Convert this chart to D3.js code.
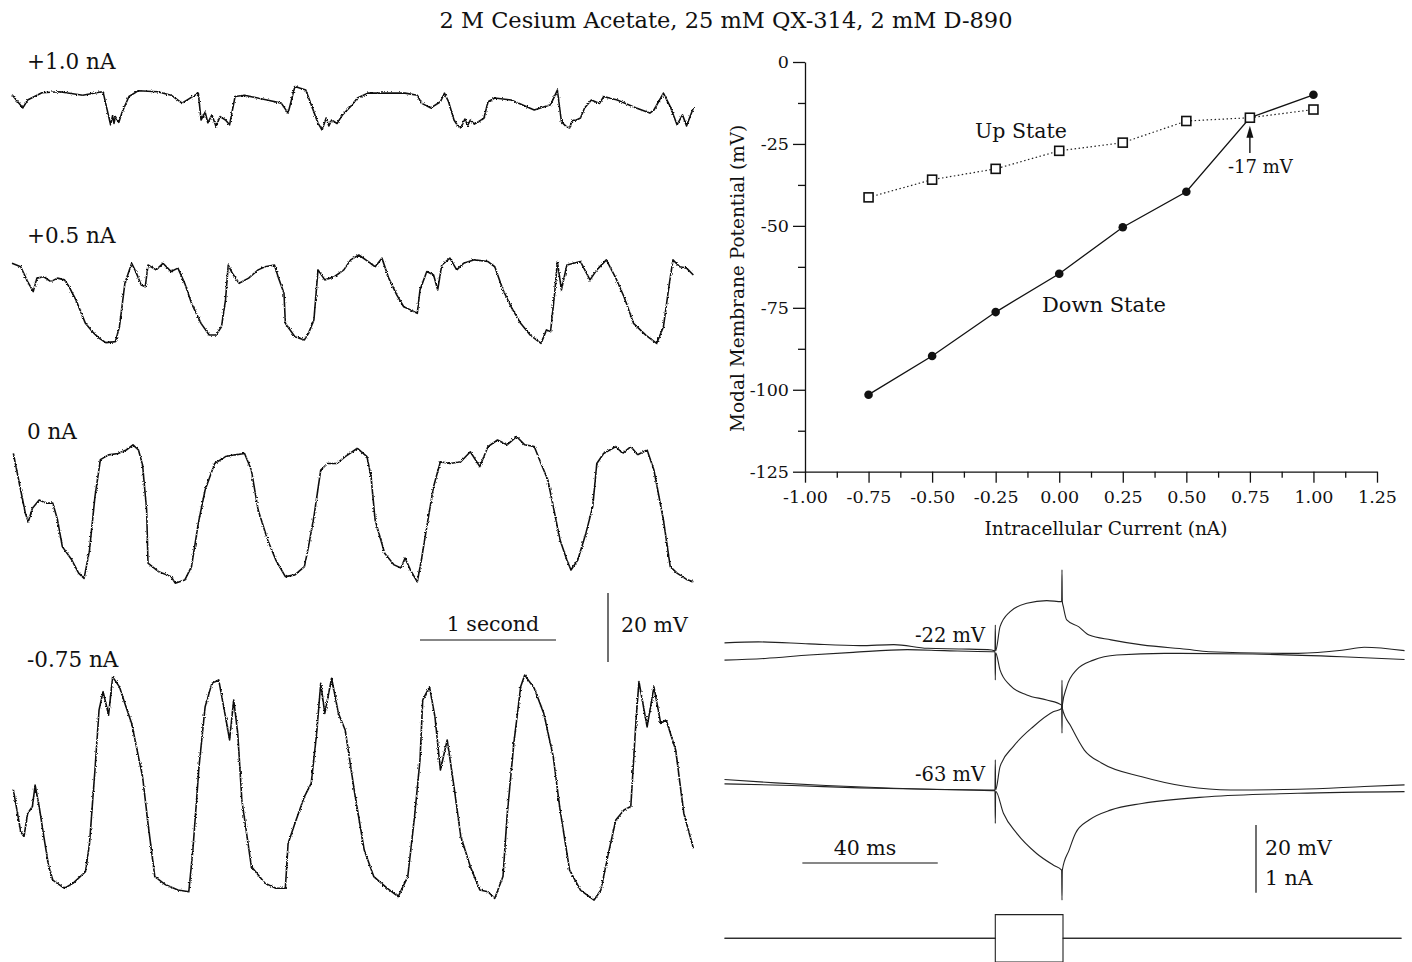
<!DOCTYPE html>
<html>
<head>
<meta charset="utf-8">
<script src="https://cdn.jsdelivr.net/npm/d3@7"></script>
<style>
  body { margin: 0; background: #fff; }
  svg text { font-family: "DejaVu Serif", "Liberation Serif", serif; fill: #111; }
</style>
</head>
<body>
<div id="wrapper"></div>
<script>
// ---- IV plot data (modal membrane potential vs injected current)
const ivCurrents = [-0.75, -0.5, -0.25, 0, 0.25, 0.5, 0.75, 1.0];
const upState = [-41.3, -35.9, -32.6, -27.1, -24.6, -18.0, -17.0, -14.5];
const downState = [-101.5, -89.7, -76.3, -64.6, -50.4, -39.6, -17.0, -10.0];
const ivXTicks = [-1, -0.75, -0.5, -0.25, 0, 0.25, 0.5, 0.75, 1, 1.25];
const ivYTicks = [0, -25, -50, -75, -100, -125];

// ---- slow traces, [time (s), membrane potential (mV)]
const traceLabels = ["+1.0 nA", "+0.5 nA", "0 nA", "-0.75 nA"];
const tracePlus1 = [[0,-10.5],[0.08,-14.3],[0.115,-12],[0.22,-9.9],[0.35,-9.6],[0.52,-10.6],[0.65,-9.7],[0.67,-9.7],[0.725,-19.2],[0.74,-16.5],[0.75,-18.8],[0.76,-16.8],[0.785,-18.5],[0.81,-15.5],[0.86,-11],[0.93,-9.3],[1.07,-9.6],[1.17,-10.6],[1.25,-12.9],[1.37,-10],[1.39,-17.8],[1.42,-15.5],[1.44,-18.6],[1.47,-16.3],[1.50,-19.7],[1.53,-16.8],[1.57,-17.8],[1.60,-19.2],[1.64,-11],[1.71,-10.6],[1.875,-12],[1.98,-12.9],[2.03,-15.8],[2.08,-8.1],[2.16,-9.1],[2.25,-18.7],[2.28,-20.7],[2.31,-17.2],[2.33,-19.5],[2.35,-17.8],[2.39,-18.8],[2.43,-16.3],[2.49,-13.9],[2.54,-11.4],[2.62,-10],[2.79,-10],[2.89,-10],[2.98,-10.6],[3.01,-12.9],[3.08,-14.3],[3.15,-12.5],[3.18,-10],[3.21,-12.5],[3.25,-17.8],[3.28,-19.6],[3.30,-20.1],[3.33,-17.5],[3.35,-19.4],[3.37,-17.8],[3.40,-19.0],[3.43,-18.3],[3.47,-17.3],[3.50,-12.5],[3.55,-11.4],[3.67,-12],[3.84,-14.9],[3.96,-13.4],[4.01,-9.1],[4.04,-18.3],[4.07,-19.5],[4.10,-20.1],[4.12,-17.9],[4.15,-17.8],[4.18,-17.2],[4.21,-14.3],[4.26,-12],[4.32,-13],[4.35,-11],[4.45,-12],[4.59,-14.3],[4.69,-15.8],[4.72,-14.9],[4.79,-10],[4.84,-13.9],[4.89,-19.2],[4.93,-16.3],[4.96,-19.5],[5.01,-14.3]];
const tracePlus05 = [[0,-16.9],[0.064,-17.9],[0.115,-22.2],[0.156,-25.1],[0.183,-21.2],[0.234,-20.8],[0.285,-22.2],[0.335,-21.2],[0.386,-21.7],[0.42,-23.7],[0.47,-27.5],[0.54,-34.3],[0.59,-36.7],[0.64,-38.6],[0.69,-39.9],[0.76,-39.6],[0.79,-35.3],[0.83,-22.7],[0.88,-16.9],[0.91,-19.3],[0.95,-23.2],[0.98,-23.7],[1.00,-17.4],[1.06,-18.8],[1.11,-16.9],[1.17,-19.3],[1.22,-18.3],[1.27,-22.7],[1.32,-28.5],[1.39,-34.3],[1.45,-37.7],[1.50,-37.7],[1.54,-35.3],[1.57,-27.5],[1.59,-17.4],[1.62,-19.8],[1.67,-22.7],[1.74,-21.2],[1.81,-18.8],[1.86,-17.9],[1.93,-17.4],[1.96,-21.2],[2.00,-25.6],[2.01,-34.3],[2.08,-38.2],[2.15,-39.1],[2.18,-37.2],[2.22,-33.3],[2.25,-18.8],[2.30,-21.7],[2.37,-20.8],[2.44,-18.8],[2.49,-15.9],[2.55,-14.5],[2.62,-16.4],[2.67,-17.9],[2.72,-15.4],[2.77,-21.2],[2.83,-26.1],[2.88,-29.5],[2.93,-30.4],[2.98,-31.4],[3.00,-24.6],[3.05,-19.3],[3.10,-20.3],[3.13,-24.6],[3.16,-17.4],[3.22,-15.4],[3.27,-18.8],[3.32,-16.9],[3.40,-15.9],[3.50,-16.4],[3.55,-17.9],[3.61,-24.6],[3.67,-29.5],[3.74,-34.3],[3.81,-37.7],[3.89,-40.1],[3.93,-36.2],[3.96,-36.7],[3.99,-25.6],[4.01,-16.4],[4.04,-24.6],[4.08,-17.4],[4.18,-16.4],[4.25,-21.7],[4.30,-18.8],[4.37,-15.9],[4.44,-21.2],[4.50,-26.6],[4.57,-34.3],[4.66,-37.7],[4.74,-40.1],[4.79,-35.3],[4.83,-23.7],[4.86,-15.9],[4.91,-17.9],[4.96,-18.3],[5.01,-20.3]];
const traceZero = [[0.01,-27.9],[0.054,-36.6],[0.098,-45.2],[0.12,-47.7],[0.15,-43.8],[0.20,-41.4],[0.25,-42.3],[0.30,-42.3],[0.335,-47.2],[0.37,-54.9],[0.44,-58.8],[0.49,-62.6],[0.53,-64.1],[0.57,-55.9],[0.61,-40.4],[0.65,-29.7],[0.71,-28.3],[0.78,-27.9],[0.84,-26.9],[0.89,-25.4],[0.93,-26.9],[0.96,-31.2],[0.99,-44.3],[1.00,-59.7],[1.08,-62.2],[1.17,-63.6],[1.20,-65.5],[1.27,-64.6],[1.32,-60.7],[1.37,-48.1],[1.42,-38.5],[1.49,-30.8],[1.57,-28.8],[1.64,-28.3],[1.71,-27.9],[1.76,-32.7],[1.81,-44.3],[1.88,-53],[1.94,-58.8],[2.01,-63.6],[2.08,-63.1],[2.15,-60.7],[2.18,-54.9],[2.22,-46.2],[2.27,-32.7],[2.32,-30.8],[2.39,-30.8],[2.45,-28.8],[2.54,-26.4],[2.61,-28.8],[2.64,-34.6],[2.67,-47.2],[2.74,-56.8],[2.81,-60.2],[2.86,-61.1],[2.89,-58.2],[2.93,-61.7],[2.98,-65.1],[3.01,-58.8],[3.05,-49.1],[3.10,-37.5],[3.15,-30.3],[3.22,-30.8],[3.30,-30.3],[3.37,-27.4],[3.44,-31.7],[3.50,-25.9],[3.57,-24],[3.64,-25.4],[3.71,-23],[3.77,-25.4],[3.84,-25.9],[3.89,-30.8],[3.94,-35.6],[3.98,-43.3],[4.03,-53],[4.08,-58.8],[4.11,-61.7],[4.16,-58.8],[4.22,-51],[4.27,-43.3],[4.30,-30.8],[4.35,-27.9],[4.44,-25.9],[4.49,-27.9],[4.55,-25.9],[4.60,-28.3],[4.67,-26.9],[4.72,-32.7],[4.79,-47.2],[4.84,-60.7],[4.89,-62.6],[4.96,-64.4],[5.01,-65.1]];
const traceMinus075 = [[0.01,-72.8],[0.064,-84.9],[0.088,-86.3],[0.115,-79.6],[0.15,-77.6],[0.17,-71.4],[0.20,-77.6],[0.234,-86.3],[0.27,-95],[0.30,-98.9],[0.386,-101.3],[0.45,-99.8],[0.54,-96.5],[0.57,-88.3],[0.61,-67],[0.64,-49.6],[0.67,-44.3],[0.71,-51.1],[0.74,-40],[0.79,-42.9],[0.83,-47.7],[0.88,-53.5],[0.93,-63.2],[0.96,-68.9],[1.00,-82.5],[1.05,-97.9],[1.13,-100.3],[1.22,-101.8],[1.30,-102.3],[1.33,-90.2],[1.375,-66.1],[1.42,-48.7],[1.47,-41.9],[1.52,-40.9],[1.57,-51.6],[1.60,-58.3],[1.63,-46.7],[1.66,-56.4],[1.69,-75.7],[1.76,-95],[1.86,-99.8],[1.94,-101.3],[2.01,-101.3],[2.03,-88.3],[2.08,-82.5],[2.15,-74.7],[2.20,-70.9],[2.24,-56.4],[2.27,-41.9],[2.30,-50.6],[2.35,-40.4],[2.40,-50.6],[2.45,-55.4],[2.52,-73.8],[2.59,-90.2],[2.66,-97.9],[2.76,-101.3],[2.84,-103.7],[2.91,-97.9],[2.96,-80.5],[3.00,-64.1],[3.02,-46.7],[3.07,-42.9],[3.11,-51.6],[3.15,-67],[3.20,-58.3],[3.25,-71.8],[3.30,-86.3],[3.37,-95],[3.44,-101.8],[3.50,-102.3],[3.55,-104.2],[3.61,-97.9],[3.64,-80.5],[3.69,-59.3],[3.74,-42.9],[3.77,-39.5],[3.84,-43.3],[3.91,-50.6],[3.98,-63.2],[4.03,-78.6],[4.10,-96],[4.18,-101.8],[4.28,-104.7],[4.33,-101.8],[4.38,-92.1],[4.44,-81.5],[4.50,-78.6],[4.55,-77.6],[4.59,-51.6],[4.61,-41.4],[4.67,-54.5],[4.72,-42.9],[4.77,-53.5],[4.81,-52.5],[4.88,-61.2],[4.94,-79.6],[5.01,-89.7]];
const slowTraces = [tracePlus1, tracePlus05, traceZero, traceMinus075];

// ---- fast traces around a 20 ms current pulse, [time (ms), mV]
const fastUpDepol = [[0,-19.6],[10,-19.3],[25,-19.9],[40,-20.4],[50,-20.1],[60,-21.2],[70,-21.4],[79,-21.7],[79.9,-22],[80,-14.3],[80.1,-22],[81.4,-14.8],[84.3,-10.4],[89.3,-7.9],[95.2,-7.1],[99.6,-7.4],[99.7,2.0],[99.8,-7.4],[100.1,-8.9],[101.1,-12.8],[104.6,-14.8],[107.7,-17.3],[114.2,-18.7],[123.3,-20.2],[136.5,-21.5],[143.1,-22.2],[169.4,-22.7],[182.4,-21.8],[189,-20.9],[200.9,-21.9]];
const fastUpHyper = [[0,-24.7],[12,-24.2],[25,-23.2],[38,-22.4],[54,-21.6],[65,-21.9],[79,-22.2],[79.9,-22.2],[80,-30.6],[80.1,-22.5],[81.4,-27.6],[84.3,-32.1],[89.3,-35],[95.2,-36.5],[99.6,-38],[99.7,-46.3],[99.8,-38],[101.1,-32.6],[104,-27.6],[109,-24.7],[115.9,-23.2],[130,-22.7],[156.1,-22.9],[182.4,-23.7],[200.9,-24.5]];
const fastDownDepol = [[0,-60],[15,-61],[30,-61.8],[50,-62.6],[79,-63.1],[79.9,-63.1],[80,-54.2],[80.1,-63.1],[81.4,-56.2],[85.3,-50.3],[91.2,-44.4],[97.1,-40],[99.6,-39],[99.7,-30.6],[99.8,-39],[102.4,-44.4],[106.3,-51.3],[111.5,-55.2],[123.3,-59.2],[136.5,-62.1],[149.6,-63.1],[169.4,-62.9],[189,-62.1],[200.9,-61.6]];
const fastDownHyper = [[0,-61.3],[20,-61.8],[40,-62.5],[60,-62.9],[79,-63.3],[79.9,-63.3],[80,-73],[80.1,-63.5],[82.4,-70],[86.3,-75.9],[92.2,-81.9],[97.1,-85.3],[99.6,-86.8],[99.7,-95.7],[99.8,-86.8],[101.8,-80.9],[103.7,-75.9],[107.7,-72],[114.2,-69],[123.3,-67.1],[143.1,-65.1],[169.4,-64.1],[200.9,-63.6]];
const fastTraces = [fastUpDepol, fastUpHyper, fastDownDepol, fastDownHyper];
const pulsePlus = [[0,0],[80,0],[80,0.35],[100,0.35],[100,0],[200,0]];
const pulseMinus = [[0,0],[80,0],[80,-0.35],[100,-0.35],[100,0],[200,0]];
const holdingLabels = [["-22 mV", -22], ["-63 mV", -63]];

const hyphen = (s) => s.replace("\u2212", "-");

function drawFigure() {
  const width = 1412;
  const height = 962;

  const wrapper = d3
    .select("#wrapper")
    .append("svg")
    .attr("width", width)
    .attr("height", height);

  // light recording-noise texture for the sweeps
  const defs = wrapper.append("defs");
  const noisy = defs
    .append("filter")
    .attr("id", "noisy")
    .attr("x", "-2%")
    .attr("y", "-10%")
    .attr("width", "104%")
    .attr("height", "120%");
  noisy
    .append("feTurbulence")
    .attr("type", "fractalNoise")
    .attr("baseFrequency", "0.8")
    .attr("numOctaves", 1)
    .attr("seed", 4)
    .attr("result", "n");
  noisy
    .append("feDisplacementMap")
    .attr("in", "SourceGraphic")
    .attr("in2", "n")
    .attr("scale", 3)
    .attr("xChannelSelector", "R")
    .attr("yChannelSelector", "G");

  wrapper
    .append("text")
    .attr("x", 726)
    .attr("y", 28)
    .attr("text-anchor", "middle")
    .style("font-size", "22.5px")
    .text("2 M Cesium Acetate, 25 mM QX-314, 2 mM D-890");

  // ================= slow traces (left column)
  const timeScale = d3.scaleLinear().domain([0, 5]).range([12, 692]);
  const panels = [
    { ref: -12, y: 100, labelY: 69 },
    { ref: -40, y: 343, labelY: 243 },
    { ref: -64, y: 578, labelY: 439 },
    { ref: -101.5, y: 889, labelY: 667 },
  ];

  const slowGroup = wrapper.append("g");
  panels.forEach((p, i) => {
    const yScale = d3
      .scaleLinear()
      .domain([p.ref, p.ref + 20])
      .range([p.y, p.y - 69]);
    const line = d3
      .line()
      .x((d) => timeScale(d[0]))
      .y((d) => yScale(d[1]));
    slowGroup
      .append("path")
      .datum(slowTraces[i])
      .attr("d", line)
      .attr("fill", "none")
      .attr("stroke", "#111")
      .attr("stroke-width", 1.6)
      .attr("stroke-linejoin", "round")
      .attr("filter", "url(#noisy)");
    slowGroup
      .append("text")
      .attr("x", 27)
      .attr("y", p.labelY)
      .style("font-size", "21.5px")
      .text(traceLabels[i]);
  });

  // scale bars for slow traces
  slowGroup
    .append("line")
    .attr("x1", timeScale(3))
    .attr("x2", timeScale(4))
    .attr("y1", 640)
    .attr("y2", 640)
    .attr("stroke", "#111")
    .attr("stroke-width", 1.2);
  slowGroup
    .append("text")
    .attr("x", timeScale(3.5) + 5)
    .attr("y", 631)
    .attr("text-anchor", "middle")
    .style("font-size", "20.5px")
    .text("1 second");
  const mvBar = d3.scaleLinear().domain([0, 20]).range([662, 593]);
  slowGroup
    .append("line")
    .attr("x1", 608)
    .attr("x2", 608)
    .attr("y1", mvBar(0))
    .attr("y2", mvBar(20))
    .attr("stroke", "#111")
    .attr("stroke-width", 1.2);
  slowGroup
    .append("text")
    .attr("x", 621)
    .attr("y", 632)
    .style("font-size", "20.5px")
    .text("20 mV");

  // ================= IV plot (top right)
  const xScale = d3.scaleLinear().domain([-1, 1.25]).range([805, 1377]);
  const yScale = d3.scaleLinear().domain([-125, 0]).range([471.7, 62]);
  const iv = wrapper.append("g");

  iv.append("g")
    .attr("transform", `translate(${xScale(-1)},0)`)
    .call(
      d3.axisLeft(yScale)
        .tickValues(ivYTicks)
        .tickSize(12)
        .tickSizeOuter(0)
        .tickPadding(4)
        .tickFormat((d) => hyphen(d3.format("d")(d)))
    );
  iv.append("g")
    .attr("transform", `translate(${xScale(-1)},0)`)
    .call(
      d3.axisLeft(yScale)
        .tickValues([-12.5, -37.5, -62.5, -87.5, -112.5])
        .tickSize(7)
        .tickFormat("")
    )
    .select(".domain")
    .remove();

  iv.append("g")
    .attr("transform", `translate(0,${yScale(-125)})`)
    .call(
      d3.axisBottom(xScale)
        .tickValues(ivXTicks)
        .tickSize(11)
        .tickSizeOuter(0)
        .tickPadding(8)
        .tickFormat((d) => hyphen(d3.format(".2f")(d)))
    );
  iv.append("g")
    .attr("transform", `translate(0,${yScale(-125)})`)
    .call(
      d3.axisBottom(xScale)
        .tickValues(d3.range(-0.875, 1.2, 0.25))
        .tickSize(6)
        .tickFormat("")
    )
    .select(".domain")
    .remove();

  iv.selectAll(".domain").attr("stroke", "#111").attr("stroke-width", 1.3);
  iv.selectAll(".tick line").attr("stroke", "#111").attr("stroke-width", 1.3);
  iv.selectAll(".tick text")
    .style("font-family", '"DejaVu Serif", serif')
    .style("font-size", "17.5px")
    .attr("fill", "#111");

  iv.append("text")
    .attr("x", 1106)
    .attr("y", 535)
    .attr("text-anchor", "middle")
    .style("font-size", "18.5px")
    .text("Intracellular Current (nA)");
  iv.append("text")
    .attr("transform", `translate(744,${yScale(-66)}) rotate(-90)`)
    .attr("text-anchor", "middle")
    .style("font-size", "18.5px")
    .text("Modal Membrane Potential (mV)");

  const ivUp = ivCurrents.map((c, i) => [c, upState[i]]);
  const ivDown = ivCurrents.map((c, i) => [c, downState[i]]);
  const ivLine = d3
    .line()
    .x((d) => xScale(d[0]))
    .y((d) => yScale(d[1]));

  iv.append("path")
    .datum(ivUp)
    .attr("d", ivLine)
    .attr("fill", "none")
    .attr("stroke", "#222")
    .attr("stroke-width", 1.2)
    .attr("stroke-dasharray", "1.5,2.5");
  iv.append("path")
    .datum(ivDown)
    .attr("d", ivLine)
    .attr("fill", "none")
    .attr("stroke", "#111")
    .attr("stroke-width", 1.3);

  iv.selectAll(".down-pt")
    .data(ivDown)
    .join("circle")
    .attr("cx", (d) => xScale(d[0]))
    .attr("cy", (d) => yScale(d[1]))
    .attr("r", 4.3)
    .attr("fill", "#111");
  iv.selectAll(".up-pt")
    .data(ivUp)
    .join("rect")
    .attr("x", (d) => xScale(d[0]) - 4.5)
    .attr("y", (d) => yScale(d[1]) - 4.5)
    .attr("width", 9)
    .attr("height", 9)
    .attr("fill", "#fff")
    .attr("stroke", "#111")
    .attr("stroke-width", 1.6);

  iv.append("text")
    .attr("x", 975)
    .attr("y", 138)
    .style("font-size", "20.5px")
    .text("Up State");
  iv.append("text")
    .attr("x", 1042)
    .attr("y", 312)
    .style("font-size", "21px")
    .text("Down State");

  // arrow to crossing point
  const ax = xScale(0.75);
  iv.append("line")
    .attr("x1", ax)
    .attr("x2", ax)
    .attr("y1", 153)
    .attr("y2", 134)
    .attr("stroke", "#111")
    .attr("stroke-width", 1.4);
  iv.append("path")
    .attr("d", `M${ax},${yScale(-17) + 8} L${ax - 3.5},${yScale(-17) + 20} L${ax + 3.5},${yScale(-17) + 20} Z`)
    .attr("fill", "#111");
  iv.append("text")
    .attr("x", 1228)
    .attr("y", 173)
    .style("font-size", "18px")
    .text("-17 mV");

  // ================= fast traces (bottom right)
  const tScale = d3.scaleLinear().domain([0, 200]).range([724.5, 1401.5]);
  const vScale = d3.scaleLinear().domain([-63, -22]).range([789.6, 651]);
  const iScale = d3.scaleLinear().domain([0, 1]).range([938.3, 870.6]);
  const fast = wrapper.append("g");

  const vLine = d3
    .line()
    .x((d) => tScale(d[0]))
    .y((d) => vScale(d[1]))
    .curve(d3.curveMonotoneX);
  fast.selectAll(".vtrace")
    .data(fastTraces)
    .join("path")
    .attr("d", vLine)
    .attr("fill", "none")
    .attr("stroke", "#222")
    .attr("stroke-width", 1.1);

  const iLine = d3
    .line()
    .x((d) => tScale(d[0]))
    .y((d) => iScale(d[1]));
  fast.selectAll(".itrace")
    .data([pulsePlus, pulseMinus])
    .join("path")
    .attr("d", iLine)
    .attr("fill", "none")
    .attr("stroke", "#222")
    .attr("stroke-width", 1.1);

  fast.selectAll(".hold")
    .data(holdingLabels)
    .join("text")
    .attr("x", tScale(77))
    .attr("y", (d) => vScale(d[1]) - 9)
    .attr("text-anchor", "end")
    .style("font-size", "19.5px")
    .text((d) => d[0]);

  fast.append("line")
    .attr("x1", tScale(23))
    .attr("x2", tScale(63))
    .attr("y1", 863)
    .attr("y2", 863)
    .attr("stroke", "#111")
    .attr("stroke-width", 1.2);
  fast.append("text")
    .attr("x", tScale(41.5))
    .attr("y", 855)
    .attr("text-anchor", "middle")
    .style("font-size", "20.5px")
    .text("40 ms");

  const barScale = d3.scaleLinear().domain([0, 20]).range([892.7, 825]);
  fast.append("line")
    .attr("x1", 1256)
    .attr("x2", 1256)
    .attr("y1", barScale(0))
    .attr("y2", barScale(20))
    .attr("stroke", "#111")
    .attr("stroke-width", 1.2);
  fast.append("text")
    .attr("x", 1265)
    .attr("y", 855)
    .style("font-size", "20.5px")
    .text("20 mV");
  fast.append("text")
    .attr("x", 1265)
    .attr("y", 885)
    .style("font-size", "20.5px")
    .text("1 nA");
}

drawFigure();
</script>
</body>
</html>
